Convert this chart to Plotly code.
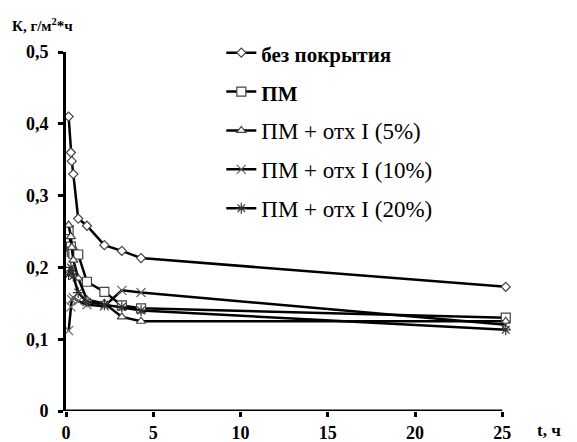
import plotly.graph_objects as go

# time, h
t = [0.15, 0.28, 0.33, 0.42, 0.7, 1.2, 2.2, 3.2, 4.3, 25.2]

names = ['<span style="font-size:21px"><b>без покрытия</b></span>',
         '<span style="font-size:21px"><b>ПМ</b></span>',
         "ПМ + отх I (5%)", "ПМ + отх I (10%)", "ПМ + отх I (20%)"]

k_bare = [0.41, 0.36, 0.348, 0.33, 0.268, 0.258, 0.231, 0.223, 0.213, 0.173]
k_pm = [0.252, 0.229, 0.222, 0.219, 0.218, 0.180, 0.166, 0.147, 0.143, 0.130]
k_5 = [0.259, 0.243, 0.228, 0.21, 0.185, 0.155, 0.15, 0.131, 0.125, 0.125]
k_10 = [0.112, 0.145, 0.155, 0.158, 0.153, 0.148, 0.146, 0.168, 0.165, 0.12]
k_20 = [0.19, 0.2, 0.195, 0.188, 0.165, 0.152, 0.148, 0.145, 0.14, 0.113]

y_ticks = [0, 0.1, 0.2, 0.3, 0.4, 0.5]
y_labels = ["0", "0,1", "0,2", "0,3", "0,4", "0,5"]
x_ticks = [0, 5, 10, 15, 20, 25]
x_labels = ["0", "5", "10", "15", "20", "25"]

series = [k_bare, k_pm, k_5, k_10, k_20]
symbols = ["diamond", "square", "triangle-up", "x-thin-open", "asterisk-open"]
sizes = [7, 9, 8, 9, 9]
mcolors = ["white", "white", "white", "#666", "#333"]

FONT = "Liberation Serif"

fig = go.Figure()
for i, (name, ys) in enumerate(zip(names, series)):
    fig.add_trace(go.Scatter(
        x=t, y=ys, name=name, mode="lines+markers",
        legendgroup=f"g{i}",
        line=dict(color="black", width=2.5),
        marker=dict(symbol=symbols[i], size=sizes[i], color=mcolors[i],
                    line=dict(color="#555" if i in (3, 4) else "#444", width=1.2)),
    ))

fig.add_shape(type="line", xref="x", yref="y", x0=0, x1=25, y0=0, y1=0,
              line=dict(color="black", width=3))

fig.update_layout(
    width=577, height=442,
    margin=dict(l=66, r=66, t=52, b=31, autoexpand=False),
    plot_bgcolor="white", paper_bgcolor="white",
    font=dict(family=FONT, color="black"),
    showlegend=True,
    legend=dict(x=0.349, y=1.058, xanchor="left", yanchor="top",
                bgcolor="rgba(0,0,0,0)", traceorder="grouped", tracegroupgap=6,
                font=dict(family=FONT, size=23, color="black"),
                itemwidth=30),
    xaxis=dict(range=[0, 25.5], tickvals=x_ticks, ticktext=x_labels, automargin=False,
               showgrid=False, zeroline=False, showline=False,
               ticks="outside", ticklen=5, tickwidth=2.5, tickcolor="black",
               tickfont=dict(family=FONT, size=18, color="black", weight="bold")),
    yaxis=dict(range=[0, 0.5], tickvals=y_ticks, ticktext=y_labels, automargin=False,
               showgrid=False, zeroline=False, showline=True, linecolor="black", linewidth=3,
               ticks="outside", ticklen=5, tickwidth=2.5, tickcolor="black",
               ticklabelstandoff=6,
               tickfont=dict(family=FONT, size=18, color="black", weight="bold")),
    annotations=[
        dict(text="<b>К, г/м<sup>2</sup>*ч</b>", xref="paper", yref="paper",
             x=-0.125, y=1.075, xanchor="left", yanchor="middle", showarrow=False,
             font=dict(family=FONT, size=15, color="black")),
        dict(text="<b>t, ч</b>", xref="paper", yref="paper",
             x=1.055, y=-0.053, xanchor="left", yanchor="middle", showarrow=False,
             font=dict(family=FONT, size=17, color="black")),
    ],
)

fig.write_html("out.html")
